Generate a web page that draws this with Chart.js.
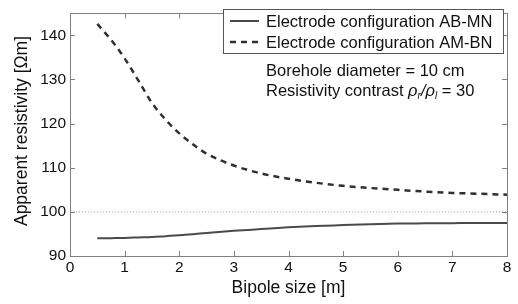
<!DOCTYPE html>
<html><head><meta charset="utf-8">
<script src="https://cdn.jsdelivr.net/npm/chart.js@4/dist/chart.umd.min.js"></script>
<style>html,body{margin:0;padding:0;background:#fff}#wrap{width:518px;height:304px}</style>
</head><body><div id="wrap"><canvas id="c" width="518" height="304"></canvas></div>
<script>
const bipoleSize = [0.5,0.75,1,1.25,1.5,1.75,2,2.25,2.5,3,3.5,4,4.5,5,5.5,6,6.5,7,7.5,8];
const rhoABMN = [94.0,94.05,94.1,94.2,94.3,94.5,94.7,94.95,95.2,95.7,96.1,96.5,96.8,97.0,97.2,97.35,97.4,97.45,97.5,97.5];
const rhoAMBN = [142.6,139.0,134.8,129.8,124.7,120.9,117.8,115.3,113.2,110.5,108.7,107.5,106.6,105.9,105.4,105.0,104.6,104.3,104.1,103.9];
const referenceX = [0, 8];
const referenceLevel = 100;
const seriesNames = ['Electrode configuration AB-MN', 'Electrode configuration AM-BN'];
const xTitle = 'Bipole size [m]';
const yTitle = 'Apparent resistivity [\u03A9m]';

const FONT = '"Liberation Sans", Arial, Helvetica, sans-serif';
const AXIS = '#808080';

const toPts = (xs, ys) => xs.map((x, i) => ({x: x, y: ys[i]}));

const decor = {
  id: 'decor',
  afterDraw(chart) {
    const ctx = chart.ctx, a = chart.chartArea;
    const xs = chart.scales.x, ys = chart.scales.y;
    ctx.save();
    ctx.strokeStyle = AXIS; ctx.lineWidth = 1;
    ctx.strokeRect(Math.round(a.left) + 0.5, Math.round(a.top) + 0.5, Math.round(a.right - a.left), Math.round(a.bottom - a.top));
    ctx.beginPath();
    xs.ticks.forEach(t => {
      const p = Math.round(xs.getPixelForValue(t.value)) + 0.5;
      ctx.moveTo(p, a.bottom); ctx.lineTo(p, a.bottom - 5);
      ctx.moveTo(p, a.top); ctx.lineTo(p, a.top + 5);
    });
    ys.ticks.forEach(t => {
      const p = Math.round(ys.getPixelForValue(t.value)) + 0.5;
      ctx.moveTo(a.left, p); ctx.lineTo(a.left + 5, p);
      ctx.moveTo(a.right, p); ctx.lineTo(a.right - 5, p);
    });
    ctx.stroke();
    ctx.fillStyle = '#111';
    ctx.font = '17.5px ' + FONT;
    ctx.textAlign = 'center'; ctx.textBaseline = 'middle';
    ctx.fillText(xTitle, (a.left + a.right) / 2, 288);
    ctx.save();
    ctx.translate(22, 131);
    ctx.rotate(-Math.PI / 2);
    ctx.fillText(yTitle, 0, 0);
    ctx.restore();
    const lx = 223, ly = 9, lw = 280, lh = 44;
    ctx.fillStyle = '#fff';
    ctx.fillRect(lx, ly, lw, lh);
    ctx.strokeStyle = '#555'; ctx.lineWidth = 1;
    ctx.strokeRect(lx + 0.5, ly + 0.5, lw, lh);
    const rows = [21, 42];
    chart.data.datasets.slice(0, 2).forEach((ds, i) => {
      ctx.strokeStyle = ds.borderColor; ctx.lineWidth = ds.borderWidth;
      ctx.setLineDash(ds.borderDash || []);
      ctx.beginPath(); ctx.moveTo(230, rows[i]); ctx.lineTo(259, rows[i]); ctx.stroke();
      ctx.setLineDash([]);
      ctx.fillStyle = '#111'; ctx.font = '16.5px ' + FONT;
      ctx.textAlign = 'left'; ctx.textBaseline = 'middle';
      ctx.fillText(ds.label, 266, rows[i] + 1);
    });
    ctx.fillStyle = '#111'; ctx.font = '16.5px ' + FONT;
    ctx.textAlign = 'left'; ctx.textBaseline = 'middle';
    ctx.fillText('Borehole diameter = 10 cm', 266, 71);
    let x = 266; const y2 = 91;
    const s1 = 'Resistivity contrast ';
    ctx.fillText(s1, x, y2); x += ctx.measureText(s1).width;
    const rho = (sub) => {
      ctx.font = 'italic 16.5px ' + FONT; ctx.fillText('\u03C1', x, y2); x += ctx.measureText('\u03C1').width;
      ctx.font = 'italic 10px ' + FONT; ctx.fillText(sub, x, y2 + 5); x += ctx.measureText(sub).width;
    };
    rho('r');
    ctx.font = 'italic 16.5px ' + FONT; ctx.fillText('/', x, y2); x += ctx.measureText('/').width;
    rho('l');
    ctx.font = '16.5px ' + FONT; ctx.fillText(' = 30', x, y2);
    ctx.restore();
  }
};

new Chart(document.getElementById('c'), {
  type: 'line',
  data: {
    datasets: [
      { label: seriesNames[0], data: toPts(bipoleSize, rhoABMN), borderColor: '#4a4a4a', borderWidth: 2,
        pointRadius: 0, cubicInterpolationMode: 'monotone', fill: false },
      { label: seriesNames[1], data: toPts(bipoleSize, rhoAMBN), borderColor: '#303030', borderWidth: 2.5,
        borderDash: [6, 5], pointRadius: 0, cubicInterpolationMode: 'monotone', fill: false },
      { label: 'ref', data: toPts(referenceX, referenceX.map(() => referenceLevel)), borderColor: '#9a9a9a', borderWidth: 1,
        borderDash: [1, 2], pointRadius: 0, fill: false }
    ]
  },
  options: {
    responsive: false, animation: false, devicePixelRatio: 1,
    layout: { padding: { left: 0, right: 11, top: 5, bottom: 0 } },
    plugins: { legend: { display: false }, tooltip: { enabled: false } },
    scales: {
      x: { type: 'linear', min: 0, max: 8,
        ticks: { stepSize: 1, color: '#111', font: { size: 15.5, family: FONT }, padding: 2, maxRotation: 0 },
        grid: { display: false, drawTicks: false }, border: { display: false },
        afterFit: s => { s.height = 48; } },
      y: { min: 90, max: 145,
        ticks: { stepSize: 10, includeBounds: false, color: '#111', font: { size: 15.5, family: FONT }, padding: 4 },
        grid: { display: false, drawTicks: false }, border: { display: false },
        afterFit: s => { s.width = 70; } }
    }
  },
  plugins: [decor]
});
</script>
</body></html>
